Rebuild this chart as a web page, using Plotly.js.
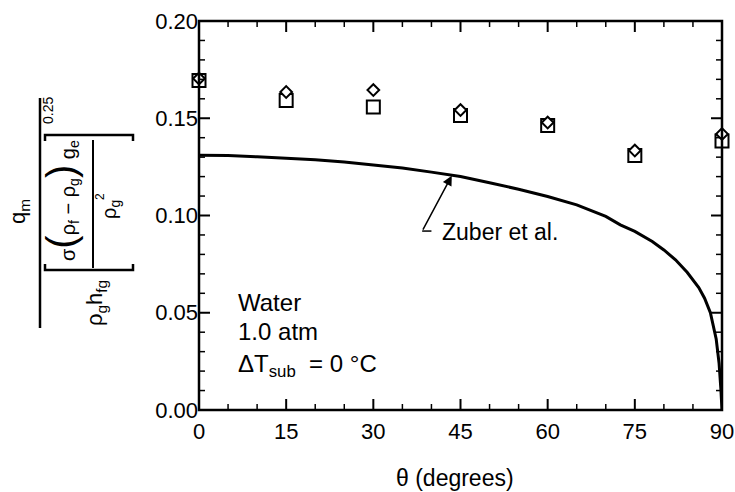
<!DOCTYPE html>
<html>
<head>
<meta charset="utf-8">
<script src="https://cdn.plot.ly/plotly-3.0.1.min.js"></script>
<style>html,body{margin:0;padding:0;background:#fff;}#chart{width:735px;height:492px;}</style>
</head>
<body>
<div id="chart"></div>
<script>
// ---- data ----
const thetaZuber = [0, 5, 10, 15, 20, 25, 30, 35, 40, 45, 50, 55, 60, 65, 70, 72.5, 75, 78, 80, 82, 84, 86, 87, 88, 89, 89.5, 89.8, 90];
const qZuber = [0.1310, 0.1308, 0.1302, 0.1295, 0.1287, 0.1275, 0.1261, 0.1244, 0.1223, 0.1200, 0.1168, 0.1135, 0.1098, 0.1055, 0.0995, 0.0952, 0.0918, 0.0866, 0.0823, 0.0772, 0.0708, 0.0630, 0.0575, 0.0500, 0.0365, 0.0240, 0.0110, 0.0];
const thetaData = [0, 15, 30, 45, 60, 75, 90];
const qDiamond = [0.1704, 0.1635, 0.1645, 0.1542, 0.1478, 0.1334, 0.1419];
const qSquare = [0.1694, 0.1591, 0.1558, 0.1514, 0.1463, 0.1308, 0.1383];
const xRange = [0, 90];
const yRange = [0, 0.2];
const xMajor = 15, xMinor = 5, yMajor = 0.05, yMinor = 0.01;

// ---- layout helpers (pixel -> paper) ----
const ML = 199, MR = 13, MT = 21, MB = 82, W = 735, H = 492;
const PW = W - ML - MR, PH = H - MT - MB;
const px = v => (v - ML) / PW;
const py = v => (H - MB - v) / PH;
const FONT = 'Liberation Sans, Arial, Helvetica, sans-serif';

function rot(text, x, y, size) {
  return {xref: 'paper', yref: 'paper', x: px(x), y: py(y), text: text, showarrow: false,
    textangle: -90, xanchor: 'center', yanchor: 'middle', font: {family: FONT, size: size, color: '#000'}};
}
function pline(x0, y0, x1, y1, w) {
  return {type: 'line', xref: 'paper', yref: 'paper', x0: px(x0), y0: py(y0), x1: px(x1), y1: py(y1),
    line: {color: '#000', width: w}};
}
function ppath(pts, w) {
  let d = pts.map((p, i) => (i ? 'L' : 'M') + px(p[0]) + ',' + py(p[1])).join(' ');
  return {type: 'path', xref: 'paper', yref: 'paper', path: d, line: {color: '#000', width: w}};
}

const traces = [
  {x: thetaZuber, y: qZuber, mode: 'lines', line: {color: '#000', width: 3}, cliponaxis: false, hoverinfo: 'skip'},
  {x: thetaData, y: qSquare, mode: 'markers', cliponaxis: false,
   marker: {symbol: 'square', size: 13, color: '#fff', line: {color: '#000', width: 2}}},
  {x: thetaData, y: qDiamond, mode: 'markers', cliponaxis: false,
   marker: {symbol: 'diamond', size: 9, color: '#fff', line: {color: '#000', width: 2}}}
];

const paren = s => '<span style="font-size:40px">' + s + '</span>';

const annotations = [
  // y-axis label (rotated fraction)
  rot('q<sub>m</sub>', 19, 212, 22),
  rot('ρ<sub>g</sub>h<sub>fg</sub>', 96, 303, 22),
  rot('σ' + paren('(') + 'ρ<sub>f</sub> − ρ<sub>g</sub>' + paren(')') + ' g<sub>e</sub>', 61, 201, 20),
  rot('ρ<sub>g</sub>', 110, 210, 20),
  rot('2', 100, 197, 12),
  rot('0.25', 48, 111, 14),
  // x-axis title
  {xref: 'paper', yref: 'paper', x: px(455), y: py(478), text: 'θ (degrees)', showarrow: false,
   xanchor: 'center', yanchor: 'middle', font: {family: FONT, size: 23, color: '#000'}},
  // in-plot texts
  {xref: 'x', yref: 'y', x: 6.37, y: 0.0555, text: 'Water', showarrow: false, xanchor: 'left', yanchor: 'middle',
   font: {family: FONT, size: 24, color: '#000'}},
  {xref: 'x', yref: 'y', x: 6.37, y: 0.0406, text: '1.0 atm', showarrow: false, xanchor: 'left', yanchor: 'middle',
   font: {family: FONT, size: 24, color: '#000'}},
  {xref: 'x', yref: 'y', x: 6.37, y: 0.0228, text: 'ΔT<sub>sub</sub>  = 0 °C', showarrow: false, xanchor: 'left', yanchor: 'middle',
   font: {family: FONT, size: 24, color: '#000'}},
  {xref: 'x', yref: 'y', x: 41.5, y: 0.0915, text: 'Zuber et al.', showarrow: false, xanchor: 'left', yanchor: 'middle',
   font: {family: FONT, size: 23, color: '#000'}},
  // arrow
  {xref: 'x', yref: 'y', axref: 'x', ayref: 'y', x: 43.5, y: 0.1205, ax: 38.4, ay: 0.092, text: '',
   showarrow: true, arrowhead: 2, arrowsize: 1.3, arrowwidth: 1.5, arrowcolor: '#000'}
];

const shapes = [
  pline(40, 98, 40, 328, 2.5),
  pline(93, 140, 93, 268, 2),
  ppath([[45, 141], [45, 135], [133, 135], [133, 141]], 2.5),
  ppath([[45, 264], [45, 270], [133, 270], [133, 264]], 2.5),
  {type: 'line', xref: 'x', yref: 'y', x0: 38.4, y0: 0.092, x1: 40.0, y1: 0.092, line: {color: '#000', width: 1.5}},
  // plot frame
  {type: 'rect', xref: 'paper', yref: 'paper', x0: 0, x1: 1, y0: 0, y1: 1, line: {color: '#000', width: 2.5}, fillcolor: 'rgba(0,0,0,0)'}
];

// inward tick marks on all four sides, placed on the axes' own scales (data units)
const yPerPx = (yRange[1] - yRange[0]) / PH, xPerPx = (xRange[1] - xRange[0]) / PW;
const nX = Math.round((xRange[1] - xRange[0]) / xMinor);
for (let i = 1; i < nX; i++) {
  const v = xRange[0] + i * xMinor;
  const major = (i * xMinor) % xMajor === 0;
  const len = (major ? 11 : 6) * yPerPx, w = major ? 2 : 1.5;
  shapes.push({type: 'line', xref: 'x', yref: 'y', x0: v, x1: v, y0: yRange[0], y1: yRange[0] + len, line: {color: '#000', width: w}});
  shapes.push({type: 'line', xref: 'x', yref: 'y', x0: v, x1: v, y0: yRange[1], y1: yRange[1] - len, line: {color: '#000', width: w}});
}
const nY = Math.round((yRange[1] - yRange[0]) / yMinor);
const perMajor = Math.round(yMajor / yMinor);
for (let i = 1; i < nY; i++) {
  const v = yRange[0] + i * yMinor;
  const major = i % perMajor === 0;
  const len = (major ? 11 : 6) * xPerPx, w = major ? 2 : 1.5;
  shapes.push({type: 'line', xref: 'x', yref: 'y', x0: xRange[0], x1: xRange[0] + len, y0: v, y1: v, line: {color: '#000', width: w}});
  shapes.push({type: 'line', xref: 'x', yref: 'y', x0: xRange[1], x1: xRange[1] - len, y0: v, y1: v, line: {color: '#000', width: w}});
}

const base = {showgrid: false, zeroline: false, showline: false, ticks: '', tickfont: {family: FONT, size: 22, color: '#000'}};

const layout = {
  width: W, height: H, margin: {l: ML, r: MR, t: MT, b: MB, pad: 0},
  paper_bgcolor: '#fff', plot_bgcolor: '#fff', showlegend: false,
  xaxis: Object.assign({}, base, {range: xRange, anchor: 'free', position: 0, ticklabelstandoff: 6,
    tickmode: 'linear', tick0: 0, dtick: xMajor}),
  yaxis: Object.assign({}, base, {range: yRange, tickmode: 'linear', tick0: 0, dtick: yMajor, tickformat: '.2f'}),
  annotations: annotations, shapes: shapes
};

Plotly.newPlot('chart', traces, layout, {displayModeBar: false});
</script>
</body>
</html>
